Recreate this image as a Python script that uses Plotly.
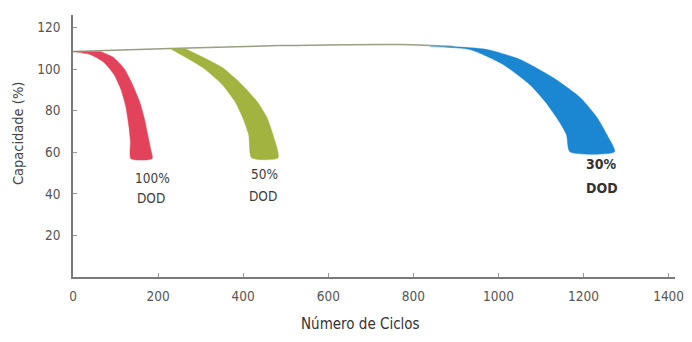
import plotly.graph_objects as go

# linha de capacidade inicial
linha_x = [0, 228, 486, 768, 893]
linha_y = [108.4, 109.9, 111.3, 111.8, 110.8]

# 100% DOD - borda interna e externa da faixa
red_in_x = [0, 40, 71, 96, 113, 124, 131, 135, 136]
red_in_y = [108.4, 107.0, 103.5, 97.5, 90.0, 82.0, 73.0, 65.0, 56.9]
red_out_x = [64, 96, 121, 141, 157, 168, 176, 182, 186]
red_out_y = [108.4, 105.5, 100.0, 92.0, 84.0, 76.0, 68.0, 62.0, 56.9]

# 50% DOD
grn_in_x = [228, 305, 351, 381, 399, 413, 420]
grn_in_y = [109.9, 100.7, 92.5, 84.3, 76.6, 68.4, 57.3]
grn_out_x = [263, 351, 397, 433, 456, 470, 482]
grn_out_y = [109.9, 100.7, 92.5, 84.3, 76.6, 68.4, 57.3]

# 30% DOD
blu_in_x = [839, 933, 1011, 1074, 1110, 1143, 1160, 1168]
blu_in_y = [110.8, 109.4, 102.2, 92.5, 84.3, 74.7, 68.4, 60.2]
blu_out_x = [893, 973, 1051, 1128, 1192, 1232, 1255, 1273]
blu_out_y = [110.8, 109.4, 104.6, 95.9, 86.3, 76.6, 68.4, 60.2]

x_ticks = [0, 200, 400, 600, 800, 1000, 1200, 1400]
y_ticks = [20, 40, 60, 80, 100, 120]

FONT = "DejaVu Sans Condensed, Roboto, sans-serif"


def faixa(xi, yi, xo, yo, cor):
    # poligono: borda interna de cima para baixo e volta pela externa
    return go.Scatter(x=xi + xo[::-1], y=yi + yo[::-1], mode='lines', fill='toself',
                      fillcolor=cor, line=dict(color=cor, width=0.5, shape='spline', smoothing=0.6),
                      hoverinfo='skip', showlegend=False)


fig = go.Figure()
fig.add_trace(go.Scatter(x=linha_x, y=linha_y, mode='lines', showlegend=False,
                         line=dict(color='#97a083', width=1.5, shape='spline')))
fig.add_trace(faixa(red_in_x, red_in_y, red_out_x, red_out_y, '#e2435b'))
fig.add_trace(faixa(grn_in_x, grn_in_y, grn_out_x, grn_out_y, '#a2b43f'))
fig.add_trace(faixa(blu_in_x, blu_in_y, blu_out_x, blu_out_y, '#1b86d1'))

labels = [
    (186, 47.7, '100%', '#3d3d3d', False), (183, 38.1, 'DOD', '#3d3d3d', False),
    (449, 49.6, '50%', '#3d3d3d', False), (447, 39.0, 'DOD', '#3d3d3d', False),
    (1243, 54.5, '30%', '#333333', True), (1243, 42.9, 'DOD', '#333333', True),
]
for lx, ly, txt, cor, bold in labels:
    fig.add_annotation(x=lx, y=ly, text='<b>%s</b>' % txt if bold else txt, showarrow=False,
                       xanchor='center', yanchor='middle',
                       font=dict(family=FONT, size=14 if bold else 13.5, color=cor))

fig.add_annotation(x=-0.091, y=0.55, xref='paper', yref='paper', text='Capacidade (%)',
                   xanchor='center', yanchor='middle', textangle=-90, showarrow=False,
                   font=dict(family=FONT, size=14.5, color='#444444'))
fig.add_annotation(x=0.478, y=-0.179, xref='paper', yref='paper', text='Número de Ciclos',
                   xanchor='center', yanchor='middle', showarrow=False,
                   font=dict(family=FONT, size=15, color='#333333'))

eixo = dict(showgrid=False, zeroline=False, showline=True, linecolor='#7a7a7a', linewidth=1.5,
            ticks='inside', ticklen=4, tickcolor='#9a9a9a', tickwidth=1, automargin=False,
            tickfont=dict(family=FONT, size=13.5, color='#555555'))

# a pagina tem 8px de margem no body: figura menor para nao gerar barra de rolagem
fig.update_layout(
    width=684, height=326, margin=dict(l=65, r=17, t=7, b=57),
    paper_bgcolor='white', plot_bgcolor='white',
    xaxis=dict(range=[0, 1415], tickvals=x_ticks, ticklabelstandoff=6, **eixo),
    yaxis=dict(range=[0, 126], tickvals=y_ticks, ticklabelstandoff=8, **eixo),
)

fig.write_html("out.html")
